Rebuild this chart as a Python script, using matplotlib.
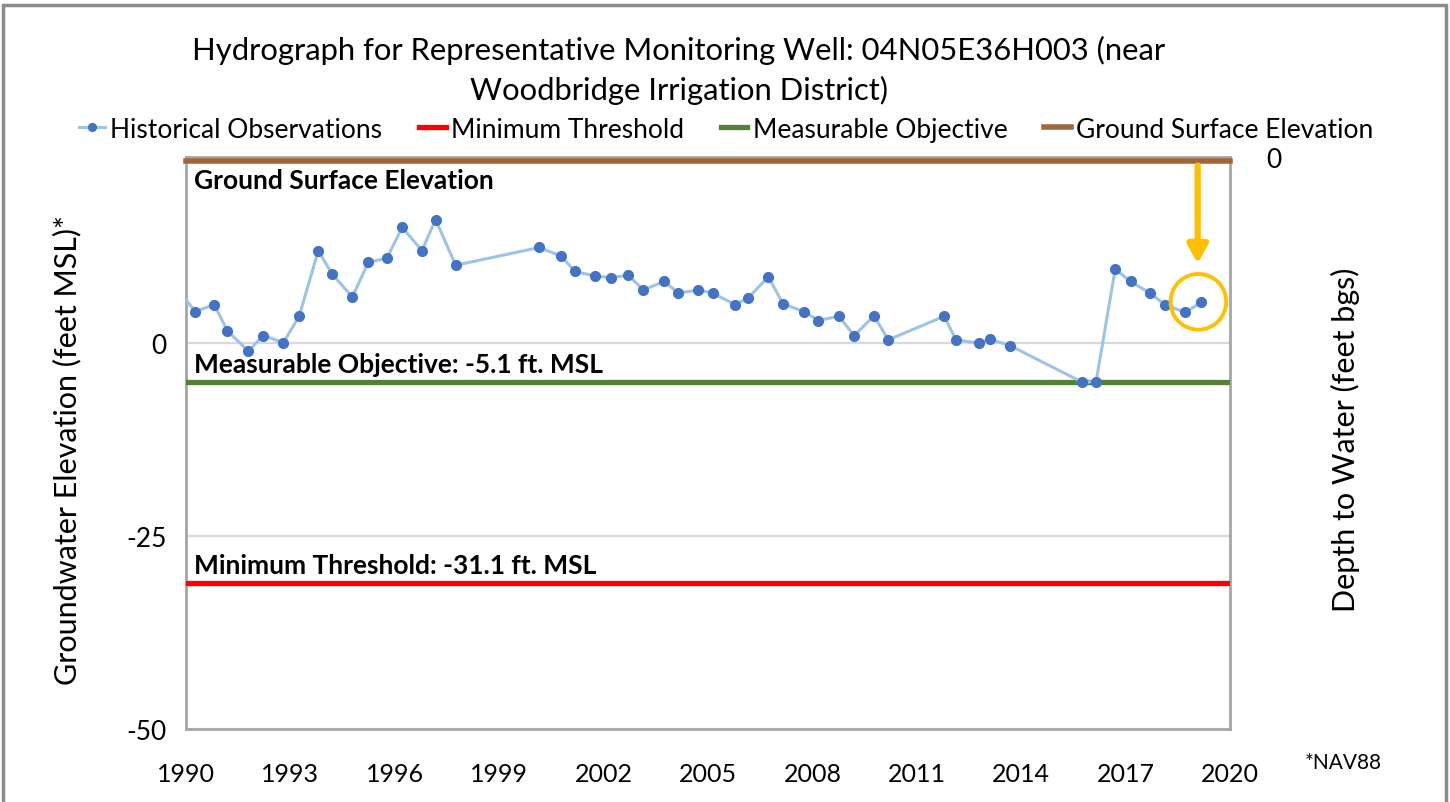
import matplotlib
matplotlib.use("Agg")
import matplotlib.pyplot as plt
from matplotlib.patches import Ellipse, Rectangle

# observations (decimal year, ft MSL)
obs_year = [1989.75, 1990.26, 1990.81, 1991.19, 1991.79, 1992.22, 1992.80, 1993.25, 1993.80,
            1994.19, 1994.78, 1995.24, 1995.77, 1996.21, 1996.78, 1997.17, 1997.75, 2000.15,
            2000.77, 2001.18, 2001.75, 2002.20, 2002.71, 2003.14, 2003.74, 2004.15, 2004.72,
            2005.13, 2005.78, 2006.16, 2006.73, 2007.16, 2007.76, 2008.17, 2008.76, 2009.20,
            2009.77, 2010.18, 2011.79, 2012.12, 2012.80, 2013.09, 2013.68, 2015.74, 2016.15,
            2016.70, 2017.14, 2017.70, 2018.13, 2018.71, 2019.17]
obs_elev = [7.0, 4.0, 4.9, 1.5, -1.1, 0.9, 0.0, 3.4, 11.9,
            8.9, 5.9, 10.4, 10.9, 14.9, 11.9, 15.9, 10.0, 12.3,
            11.2, 9.2, 8.6, 8.4, 8.7, 6.8, 7.9, 6.4, 6.8,
            6.4, 4.9, 5.8, 8.5, 5.0, 4.0, 2.85, 3.4, 0.9,
            3.45, 0.35, 3.4, 0.35, -0.1, 0.45, -0.4, -5.1, -5.1,
            9.5, 7.9, 6.4, 4.9, 3.9, 5.2]
min_threshold = -31.1
meas_objective = -5.1
ground_surface = 23.5
x_range = [1990, 2020]
x_ticks = list(range(1990, 2021, 3))
y_ticks = [-50, -25, 0]

FONT = ["Lato", "DejaVu Sans"]

fig = plt.figure(figsize=(14.5, 8.03), dpi=100)
ax = fig.add_axes([0.1283, 0.0909, 0.72, 0.7123])

ax.plot(x_range, [ground_surface] * 2, color="#A0683A", lw=4, clip_on=False, zorder=3,
        label="Ground Surface Elevation")
ax.plot(x_range, [meas_objective] * 2, color="#548235", lw=3.8, zorder=3,
        label="Measurable Objective")
ax.plot(x_range, [min_threshold] * 2, color="#FF0000", lw=3.8, zorder=3,
        label="Minimum Threshold")
ax.plot(obs_year, obs_elev, "-o", color="#9DC3E6", lw=2.2, ms=7,
        mfc="#4472C4", mec="#4472C4", zorder=4, label="Historical Observations")

ax.set_xlim(*x_range)
ax.set_ylim(-50, 24)
ax.set_xticks(x_ticks)
ax.set_yticks(y_ticks)
ax.set_xticklabels([str(t) for t in x_ticks], family=FONT, fontsize=18)
ax.set_yticklabels([str(t) for t in y_ticks], family=FONT, fontsize=19)
ax.tick_params(axis="x", length=0, pad=24)
ax.tick_params(axis="y", length=0, pad=14)
ax.grid(axis="y", color="#D9D9D9", lw=1.6)
ax.set_axisbelow(True)
for s in ax.spines.values():
    s.set_color("#A6A6A6"); s.set_linewidth(2)
ax.set_ylabel("Groundwater Elevation (feet MSL)*", family=FONT, fontsize=22)
ax.yaxis.set_label_coords(-0.1, 0.49)

ax2 = ax.twinx()
ax2.set_ylim(74, 0)
ax2.set_yticks([0])
ax2.set_yticklabels(["0"], family=FONT, fontsize=19)
ax2.tick_params(axis="y", length=0, pad=26)
for s in ax2.spines.values():
    s.set_visible(False)
ax2.set_ylabel("Depth to Water (feet bgs)", family=FONT, fontsize=22)
ax2.yaxis.set_label_coords(1.097, 0.507)

# in-plot labels
lab = dict(family=FONT, fontsize=19, fontweight="bold", transform=ax.get_yaxis_transform())
ax.text(0.008, 21.0, "Ground Surface Elevation", va="center", **lab)
ax.text(0.008, meas_objective + 0.8, "Measurable Objective: -5.1 ft. MSL", va="bottom", **lab)
ax.text(0.008, min_threshold + 0.8, "Minimum Threshold: -31.1 ft. MSL", va="bottom", **lab)

# highlight of latest readings
ax.annotate("", xy=(2019.07, 10.2), xytext=(2019.07, 22.9),
            arrowprops=dict(arrowstyle="-|>,head_length=1.1,head_width=0.6",
                            color="#FFC000", lw=4.5, shrinkA=0, shrinkB=0), zorder=5)
ax.add_patch(Ellipse((2019.09, 5.27), 1.6, 7.2, fill=False, ec="#FFC000", lw=2.8, zorder=5))

fig.text(0.468, 0.937, "Hydrograph for Representative Monitoring Well: 04N05E36H003 (near",
         ha="center", va="center", family=FONT, fontsize=22.3)
fig.text(0.468, 0.887, "Woodbridge Irrigation District)",
         ha="center", va="center", family=FONT, fontsize=22.3)

h, l = ax.get_legend_handles_labels()
order = [3, 2, 1, 0]
fig.legend([h[i] for i in order], [l[i] for i in order], loc="center",
           bbox_to_anchor=(0.5007, 0.838), ncol=4, frameon=False,
           prop={"family": FONT, "size": 19}, handlelength=1.0,
           handletextpad=0.2, columnspacing=1.4, markerscale=0.8)

fig.text(0.9, 0.042, "*NAV88", family=FONT, fontsize=15)
fig.patches.append(Rectangle((0.002, -0.02), 0.995, 1.012, transform=fig.transFigure,
                             fill=False, ec="#8C8C8C", lw=2.5))

fig.savefig("out.png", dpi=100)
